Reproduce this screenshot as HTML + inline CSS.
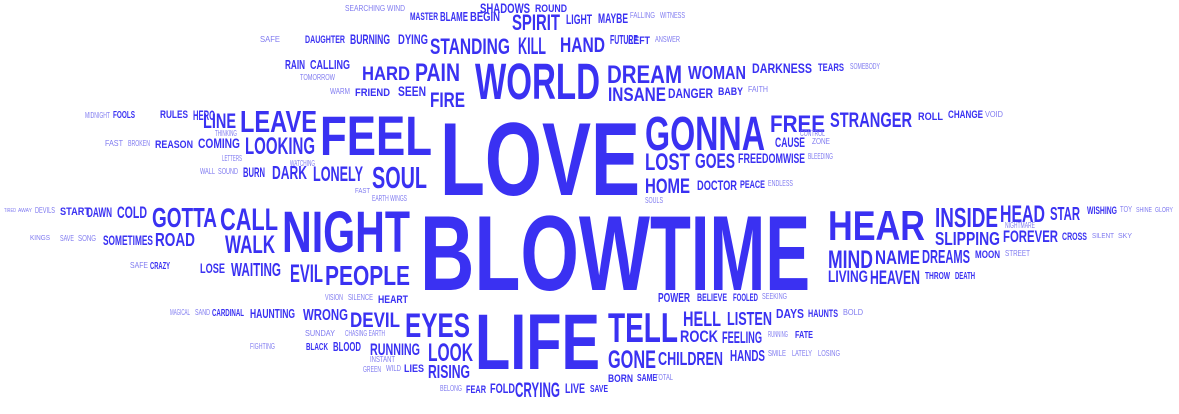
<!DOCTYPE html>
<html><head><meta charset="utf-8"><style>
html,body{margin:0;padding:0;background:#fff;}
svg{display:block;}
text{font-family:"Liberation Sans",sans-serif;font-weight:bold;fill:#3a31f2;}
</style></head><body>
<svg id="cloud" width="1179" height="414" viewBox="0 0 1179 414" xmlns="http://www.w3.org/2000/svg"></svg>
<script>
// word, left, top, width, cap-height
const words = [
["SEARCHING WIND",345,5,60,6],["SHADOWS",480,3,50,10],["ROUND",535,4,32,8],["MASTER",410,12,28,8],["BLAME",440,12,28,9],["BEGIN",470,12,30,9],["SPIRIT",512,14,48,16],["LIGHT",566,14,26,10],["MAYBE",598,13,30,10],["FALLING",630,12,25,6],["WITNESS",660,12,25,6],
["DAUGHTER",305,35,40,8],["BURNING",350,34,40,10],["DYING",398,34,30,10],["STANDING",430,38,80,16],["KILL",518,37,28,17],["HAND",560,37,45,15],["FUTURE",610,35,28,9],["LEFT",628,36,22,8],["ANSWER",655,36,25,6],["SAFE",260,36,20,6],
["RAIN",285,60,20,9],["CALLING",310,60,40,9],["TOMORROW",300,74,35,6],["HARD",362,66,48,14],["PAIN",415,63,45,18],["WORLD",475,62,125,37],["DREAM",607,65,75,18],["WOMAN",688,66,58,13],["DARKNESS",752,63,60,10],["TEARS",818,63,26,8],["SOMEBODY",850,63,30,6],
["FRIEND",355,88,35,8],["SEEN",398,86,28,10],["FIRE",430,92,35,15],["INSANE",608,87,58,14],["DANGER",668,88,45,10],["BABY",718,87,25,8],["FAITH",748,86,20,6],["WARM",330,88,20,6],
["MIDNIGHT",85,112,25,6],["FOOLS",113,111,22,7],["RULES",160,110,28,8],["HERO",193,110,22,10],["LINE",203,113,33,15],["LEAVE",240,110,77,22],["FEEL",320,115,112,40],["LOVE",440,120,200,75],["GONNA",645,115,120,35],["FREE",770,115,55,17],["STRANGER",830,112,82,15],["ROLL",918,112,25,8],["CHANGE",948,110,35,8],["VOID",985,111,18,6],
["FAST",105,140,18,6],["BROKEN",128,140,22,6],["REASON",155,140,38,8],["COMING",198,138,42,10],["LOOKING",245,137,70,17],["THINKING",215,130,22,6],["CAUSE",775,137,30,10],["CONTROL",800,130,25,6],["ZONE",812,138,18,6],
["LETTERS",222,155,20,6],["WATCHING",290,160,25,6],["LOST",645,153,45,17],["GOES",695,153,40,15],["FREEDOM",738,153,45,10],["WISE",783,153,22,10],["BLEEDING",808,153,25,6],
["WALL",200,168,15,6],["SOUND",218,168,20,6],["BURN",243,167,22,10],["DARK",272,166,35,13],["LONELY",313,166,50,15],["SOUL",372,166,55,22],["HOME",645,178,45,15],["DOCTOR",697,180,40,10],["PEACE",740,180,25,8],["ENDLESS",768,180,25,6],
["FAST",355,188,15,5],["EARTH WINGS",372,195,35,6],["SOULS",645,197,18,6],
["TIRED",4,208,12,4],["AWAY",18,208,14,4],["DEVILS",35,207,20,6],["START",60,207,30,8],["DAWN",87,207,25,10],["COLD",117,206,30,12],["GOTTA",152,207,65,20],["CALL",220,207,58,23],["NIGHT",282,210,128,42],["BLOW",420,213,230,77],["TIME",650,213,160,77],["HEAR",828,210,97,30],["INSIDE",935,207,63,20],["HEAD",1000,205,45,17],["STAR",1050,207,30,13],["WISHING",1087,206,30,8],["TOY",1120,206,12,6],["SHINE",1136,207,16,5],["GLORY",1155,207,18,5],
["KINGS",30,235,20,5],["SAVE",60,235,14,6],["SONG",78,235,18,6],["SOMETIMES",103,235,50,10],["ROAD",155,233,40,13],["WALK",225,235,50,18],["SLIPPING",935,232,65,13],["FOREVER",1003,230,55,12],["CROSS",1062,232,25,8],["NIGHTMARE",1005,222,30,6],["SILENT",1092,233,22,5],["SKY",1118,233,14,5],
["MIND",828,250,45,18],["NAME",875,250,45,14],["DREAMS",922,250,48,13],["MOON",975,250,25,8],["STREET",1005,250,25,6],
["SAFE",130,262,18,6],["CRAZY",150,262,20,7],["LOSE",200,263,25,10],["WAITING",231,263,50,13],["EVIL",290,264,33,18],["PEOPLE",325,265,85,20],["LIVING",828,270,40,12],["HEAVEN",870,270,50,14],["THROW",925,272,25,7],["DEATH",955,272,20,7],
["VISION",325,294,18,6],["SILENCE",348,294,25,6],["HEART",378,295,30,8],["POWER",658,293,32,9],["BELIEVE",697,293,30,8],["FOOLED",733,293,25,8],["SEEKING",762,293,25,6],
["MAGICAL",170,309,20,6],["SAND",195,309,15,6],["CARDINAL",212,309,32,7],["HAUNTING",250,309,45,9],["WRONG",303,309,45,11],["DEVIL",350,312,50,15],["EYES",405,312,65,25],["LIFE",475,312,125,57],["TELL",608,312,70,30],["HELL",683,311,38,15],["LISTEN",727,312,45,13],["DAYS",776,309,28,9],["HAUNTS",808,309,30,8],["BOLD",843,309,20,6],
["CHASING EARTH",345,330,40,6],["SUNDAY",305,330,30,6],["ROCK",680,330,38,12],["FEELING",722,331,40,12],["RUNNING",768,331,20,6],["FATE",795,331,18,7],
["FIGHTING",250,343,25,6],["BLACK",306,343,22,7],["BLOOD",333,342,28,9],["RUNNING",370,343,50,12],["INSTANT",370,356,25,6],["LOOK",428,343,45,18],["GONE",608,350,48,18],["CHILDREN",658,352,65,13],["HANDS",730,350,35,11],["SMILE",768,350,18,6],["LATELY",792,350,20,6],["LOSING",818,350,22,6],
["GREEN",363,366,18,6],["WILD",386,365,15,6],["LIES",404,364,20,8],["RISING",428,365,42,13],["BORN",608,374,25,8],["SAME",637,374,20,7],["TOTAL",655,374,18,6],
["BELONG",440,385,22,6],["FEAR",466,385,20,8],["FOLD",490,383,25,10],["CRYING",515,382,45,15],["LIVE",565,383,20,10],["SAVE",590,385,18,7]
];
const svg = document.getElementById('cloud');
const NS = 'http://www.w3.org/2000/svg';
for (const w of words) {
  const t = document.createElementNS(NS, 'text');
  const fs = w[4] / 0.72;
  t.setAttribute('x', w[1]);
  t.setAttribute('y', w[2] + w[4]);
  t.setAttribute('font-size', fs.toFixed(1));
  t.setAttribute('textLength', w[3]);
  t.setAttribute('lengthAdjust', 'spacingAndGlyphs');
  if (w[4] < 7) t.setAttribute('style', 'fill:#7f7af0;font-weight:normal');
  
  
  t.textContent = w[0];
  svg.appendChild(t);
}
</script>
</body></html>
